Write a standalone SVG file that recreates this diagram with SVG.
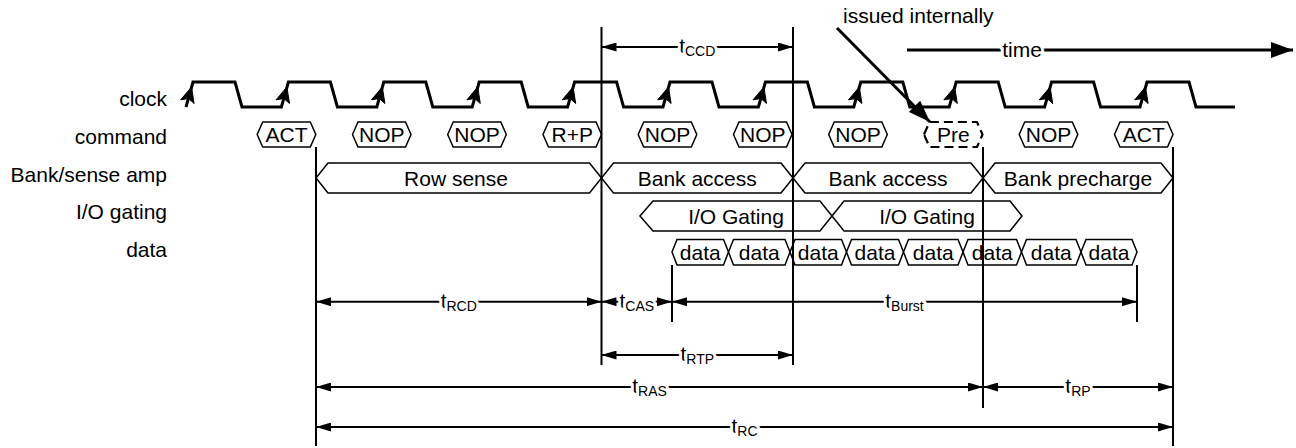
<svg xmlns="http://www.w3.org/2000/svg" xmlns:xlink="http://www.w3.org/1999/xlink" width="1296" height="448" viewBox="0 0 1296 448">
<style>
.t{font-family:"Liberation Sans",Arial,sans-serif;font-size:21px;fill:#000}
.sub{font-size:14px}
.halo{paint-order:stroke;stroke:#fff;stroke-width:6px;stroke-linejoin:round}
.box{fill:#fff;stroke:#000;stroke-width:1.5}
.dash{fill:#fff;stroke:#000;stroke-width:2.2;stroke-dasharray:9 5}
.clk{fill:none;stroke:#000;stroke-width:3;stroke-linejoin:miter}
.vl{stroke:#000;stroke-width:2;fill:none}
.dim{stroke:#000;stroke-width:2;fill:none;marker-start:url(#ah);marker-end:url(#ah)}
.big{stroke:#000;stroke-width:3;fill:none;marker-end:url(#bh)}
</style>
<defs>
<marker id="ah" viewBox="0 0 15 9" refX="15" refY="4.5" markerWidth="15" markerHeight="9" markerUnits="userSpaceOnUse" orient="auto-start-reverse"><path d="M0,0 L15,4.5 L0,9 z" fill="#000"/></marker>
<marker id="bh" viewBox="0 0 22 16" refX="22" refY="8" markerWidth="22" markerHeight="16" markerUnits="userSpaceOnUse" orient="auto"><path d="M0,0 L22,8 L0,16 z" fill="#000"/></marker>
<path id="ck" d="M0,0 L2.6,16.5 L-3,11.5 L-10.8,12.8 Z" fill="#000" stroke="#000" stroke-width="1" stroke-linejoin="round"/>
</defs>
<rect width="1296" height="448" fill="#fff"/>

<g id="row-labels" class="t" text-anchor="end">
<text x="167" y="106">clock</text>
<text x="167" y="144">command</text>
<text x="167" y="181.5">Bank/sense amp</text>
<text x="167" y="219">I/O gating</text>
<text x="167" y="256.5">data</text>
</g>

<g id="clock">
<path class="clk" d="M186,107 L193,82 H235 L242,107 H281.4 L288.4,82 H330.4 L337.4,107 H376.8 L383.8,82 H425.8 L432.8,107 H472.2 L479.2,82 H521.2 L528.2,107 H567.6 L574.6,82 H616.6 L623.6,107 H663 L670,82 H712 L719,107 H758.4 L765.4,82 H807.4 L814.4,107 H853.8 L860.8,82 H902.8 L909.8,107 H949.2 L956.2,82 H998.2 L1005.2,107 H1044.6 L1051.6,82 H1093.6 L1100.6,107 H1140 L1147,82 H1189 L1196,107 H1235"/>
<use href="#ck" x="191.5" y="87"/>
<use href="#ck" x="286.9" y="87"/>
<use href="#ck" x="382.3" y="87"/>
<use href="#ck" x="477.7" y="87"/>
<use href="#ck" x="573.1" y="87"/>
<use href="#ck" x="668.5" y="87"/>
<use href="#ck" x="763.9" y="87"/>
<use href="#ck" x="859.3" y="87"/>
<use href="#ck" x="954.7" y="87"/>
<use href="#ck" x="1050.1" y="87"/>
<use href="#ck" x="1145.5" y="87"/>
</g>

<g id="commands">
<g id="cmd-act1"><polygon class="box" points="257.2,134.5 262.7,122 310.3,122 315.8,134.5 310.3,147 262.7,147"/><text class="t" x="286.5" y="142" text-anchor="middle">ACT</text></g>
<g id="cmd-nop1"><polygon class="box" points="352.5,134.5 358,122 405.5,122 411,134.5 405.5,147 358,147"/><text class="t" x="381.75" y="142" text-anchor="middle">NOP</text></g>
<g id="cmd-nop2"><polygon class="box" points="447.7,134.5 453.2,122 500.8,122 506.3,134.5 500.8,147 453.2,147"/><text class="t" x="477" y="142" text-anchor="middle">NOP</text></g>
<g id="cmd-rp"><polygon class="box" points="543,134.5 548.5,122 596,122 601.5,134.5 596,147 548.5,147"/><text class="t" x="572.25" y="142" text-anchor="middle">R+P</text></g>
<g id="cmd-nop3"><polygon class="box" points="638.2,134.5 643.7,122 691.3,122 696.8,134.5 691.3,147 643.7,147"/><text class="t" x="667.5" y="142" text-anchor="middle">NOP</text></g>
<g id="cmd-nop4"><polygon class="box" points="733.5,134.5 739,122 786.5,122 792,134.5 786.5,147 739,147"/><text class="t" x="762.75" y="142" text-anchor="middle">NOP</text></g>
<g id="cmd-nop5"><polygon class="box" points="828.7,134.5 834.2,122 881.8,122 887.3,134.5 881.8,147 834.2,147"/><text class="t" x="858" y="142" text-anchor="middle">NOP</text></g>
<g id="cmd-pre"><polygon class="dash" points="924,134.5 929.5,122 977,122 982.5,134.5 977,147 929.5,147"/><text class="t" x="953.25" y="142" text-anchor="middle">Pre</text></g>
<g id="cmd-nop6"><polygon class="box" points="1019.2,134.5 1024.7,122 1072.3,122 1077.8,134.5 1072.3,147 1024.7,147"/><text class="t" x="1048.5" y="142" text-anchor="middle">NOP</text></g>
<g id="cmd-act2"><polygon class="box" points="1114.5,134.5 1120,122 1167.5,122 1173,134.5 1167.5,147 1120,147"/><text class="t" x="1143.75" y="142" text-anchor="middle">ACT</text></g>
</g>

<g id="bank">
<g id="row-sense"><polygon class="box" points="316,178 328,163 589.5,163 601.5,178 589.5,193 328,193"/><text class="t" x="456" y="185.5" text-anchor="middle">Row sense</text></g>
<g id="bank-access1"><polygon class="box" points="601.5,178 613.5,163 781,163 793,178 781,193 613.5,193"/><text class="t" x="697.25" y="185.5" text-anchor="middle">Bank access</text></g>
<g id="bank-access2"><polygon class="box" points="793,178 805,163 971,163 983,178 971,193 805,193"/><text class="t" x="888" y="185.5" text-anchor="middle">Bank access</text></g>
<g id="bank-precharge"><polygon class="box" points="983,178 995,163 1161,163 1173,178 1161,193 995,193"/><text class="t" x="1078" y="185.5" text-anchor="middle">Bank precharge</text></g>
</g>

<g id="io">
<g id="io1"><polygon class="box" points="640,216 653,201 820,201 832,216 820,231 653,231"/><text class="t" x="736" y="223.5" text-anchor="middle">I/O Gating</text></g>
<g id="io2"><polygon class="box" points="832,216 844,201 1010,201 1022,216 1010,231 844,231"/><text class="t" x="927" y="223.5" text-anchor="middle">I/O Gating</text></g>
</g>

<g id="data">
<g id="d1"><polygon class="box" points="672,252 677,239.5 723.5,239.5 728.5,252 723.5,265 677,265"/><text class="t" x="700.25" y="259.5" text-anchor="middle">data</text></g>
<g id="d2"><polygon class="box" points="728.5,252 733.5,239.5 785,239.5 790,252 785,265 733.5,265"/><text class="t" x="759.25" y="259.5" text-anchor="middle">data</text></g>
<g id="d3"><polygon class="box" points="790,252 795,239.5 841.5,239.5 846.5,252 841.5,265 795,265"/><text class="t" x="818.25" y="259.5" text-anchor="middle">data</text></g>
<g id="d4"><polygon class="box" points="846.5,252 851.5,239.5 898.5,239.5 903.5,252 898.5,265 851.5,265"/><text class="t" x="875" y="259.5" text-anchor="middle">data</text></g>
<g id="d5"><polygon class="box" points="903.5,252 908.5,239.5 958,239.5 963,252 958,265 908.5,265"/><text class="t" x="933.25" y="259.5" text-anchor="middle">data</text></g>
<g id="d6"><polygon class="box" points="963,252 968,239.5 1016.5,239.5 1021.5,252 1016.5,265 968,265"/><text class="t" x="992.25" y="259.5" text-anchor="middle">data</text></g>
<g id="d7"><polygon class="box" points="1021.5,252 1026.5,239.5 1076,239.5 1081,252 1076,265 1026.5,265"/><text class="t" x="1051.25" y="259.5" text-anchor="middle">data</text></g>
<g id="d8"><polygon class="box" points="1081,252 1086,239.5 1132,239.5 1137,252 1132,265 1086,265"/><text class="t" x="1109" y="259.5" text-anchor="middle">data</text></g>
</g>

<g id="connectors">
<line class="vl" x1="316" y1="147" x2="316" y2="446"/>
<line class="vl" x1="601.5" y1="27" x2="601.5" y2="365"/>
<line class="vl" x1="793" y1="27" x2="793" y2="365"/>
<line class="vl" x1="983" y1="147" x2="983" y2="408"/>
<line class="vl" x1="1173" y1="147" x2="1173" y2="446"/>
<line class="vl" x1="672" y1="265" x2="672" y2="322"/>
<line class="vl" x1="1137" y1="265" x2="1137" y2="322"/>

<line class="dim" x1="601.5" y1="47" x2="793" y2="47"/>
<line class="dim" x1="316" y1="301.7" x2="601.5" y2="301.7"/>
<line class="dim" x1="601.5" y1="301.7" x2="672" y2="301.7"/>
<line class="dim" x1="672" y1="301.7" x2="1137" y2="301.7"/>
<line class="dim" x1="601.5" y1="355" x2="793" y2="355"/>
<line class="dim" x1="316" y1="387" x2="983" y2="387"/>
<line class="dim" x1="983" y1="387" x2="1173" y2="387"/>
<line class="dim" x1="316" y1="427" x2="1173" y2="427"/>

<line class="big" x1="907" y1="50" x2="1293" y2="50"/>
<line class="big" x1="837" y1="28" x2="930" y2="122"/>
</g>

<g id="timing-labels" class="t halo" text-anchor="middle">
<text x="697.25" y="53">t<tspan class="sub" dy="3">CCD</tspan></text>
<text x="458.75" y="307.5">t<tspan class="sub" dy="3">RCD</tspan></text>
<text x="636.75" y="307.5">t<tspan class="sub" dy="3">CAS</tspan></text>
<text x="904.5" y="307.5">t<tspan class="sub" dy="3">Burst</tspan></text>
<text x="697.25" y="361">t<tspan class="sub" dy="3">RTP</tspan></text>
<text x="649.5" y="393">t<tspan class="sub" dy="3">RAS</tspan></text>
<text x="1078" y="393">t<tspan class="sub" dy="3">RP</tspan></text>
<text x="744.5" y="433">t<tspan class="sub" dy="3">RC</tspan></text>
<text x="1022" y="57">time</text>
</g>
<g id="note">
<text class="t" x="843" y="23">issued internally</text>
</g>
</svg>
